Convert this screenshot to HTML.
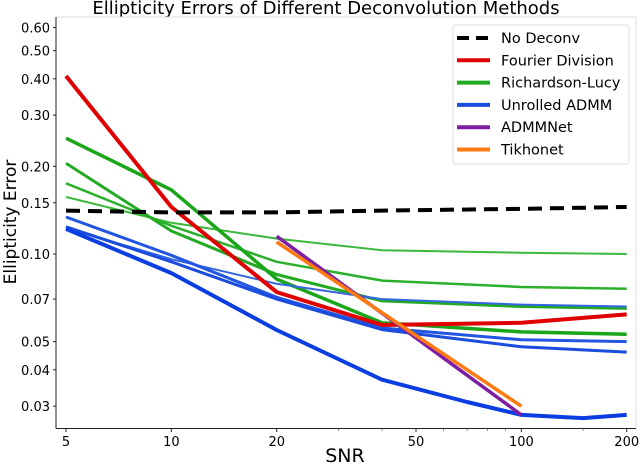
<!DOCTYPE html>
<html><head><meta charset="utf-8"><style>
body{margin:0;background:#fff;}
svg text{font-family:"DejaVu Sans","Liberation Sans",sans-serif;fill:#000;}
</style></head><body>
<svg id="chart" width="640" height="468" viewBox="0 0 640 468" xmlns="http://www.w3.org/2000/svg">
<text x="326" y="14" font-size="18" text-anchor="middle">Ellipticity Errors of Different Deconvolution Methods</text>
<line x1="56" y1="17" x2="636" y2="17" stroke="#ddd" stroke-width="1"/>
<line x1="636" y1="17" x2="636" y2="428" stroke="#ddd" stroke-width="1"/>
<line x1="56" y1="17" x2="56" y2="428.5" stroke="#222" stroke-width="1"/>
<line x1="56" y1="428.5" x2="636" y2="428.5" stroke="#222" stroke-width="1"/>
<g id="ticks"></g>
<g id="series"></g>
<text x="345" y="462" font-size="19" text-anchor="middle">SNR</text>
<text transform="translate(16,222) rotate(-90)" font-size="17" text-anchor="middle">Ellipticity Error</text>
<g>
<rect x="453" y="25" width="176" height="139" rx="3" fill="#fff" stroke="#ddd"/>
<g id="legend-items"></g>
</g>
</svg>
<script>
const snr = [5, 10, 20, 40, 100, 200];
const noDeconv = [0.141, 0.139, 0.139, 0.141, 0.143, 0.145];
const fourier = [0.409, 0.145, 0.074, 0.057, 0.058, 0.062];
const rl1 = [0.25, 0.166, 0.082, 0.058, 0.054, 0.053];
const rl2 = [0.205, 0.12, 0.085, 0.069, 0.066, 0.065];
const rl3 = [0.175, 0.125, 0.094, 0.081, 0.077, 0.076];
const rl4 = [0.157, 0.128, 0.113, 0.103, 0.101, 0.100];
const admmA = [0.134, 0.099, 0.071, 0.0557, 0.0507, 0.050];
const admmB = [0.124, 0.094, 0.070, 0.055, 0.048, 0.046];
const admmC = [0.123, 0.096, 0.079, 0.070, 0.067, 0.066];
const admmThickSnr = [5, 10, 20, 40, 70, 100, 150, 200];
const admmThick = [0.122, 0.086, 0.0548, 0.037, 0.031, 0.028, 0.0273, 0.028];
const netSnr = [20, 100];
const admmnet = [0.115, 0.028];
const tikhonet = [0.11, 0.030];
const xTicks = [5, 10, 20, 50, 100, 200];
const yTicks = [0.03, 0.04, 0.05, 0.07, 0.10, 0.15, 0.20, 0.30, 0.40, 0.50, 0.60];
const yTickLabels = ["0.03","0.04","0.05","0.07","0.10","0.15","0.20","0.30","0.40","0.50","0.60"];
const legendLabels = ["No Deconv","Fourier Division","Richardson-Lucy","Unrolled ADMM","ADMMNet","Tikhonet"];

const X = v => 66 + 350 * Math.log10(v / 5);
const Y = v => 254 - 291 * Math.log10(v / 0.1);
const NS = "http://www.w3.org/2000/svg";
const ticks = document.getElementById('ticks');
const ser = document.getElementById('series');
function mk(tag, attrs, parent){const e=document.createElementNS(NS,tag);for(const k in attrs)e.setAttribute(k,attrs[k]);parent.appendChild(e);return e;}

xTicks.forEach(v=>{
  const t=mk('line',{x1:X(v),x2:X(v),y1:428.5,y2:432,stroke:'#222'},ticks);
  
  
  const l=mk('text',{x:X(v),y:446,'font-size':13,'text-anchor':'middle'},ticks);
  l.textContent=v;
  
  
});
[30,40,60,70,80,90,150].forEach(v=>{
  const t=mk('line',{x1:X(v),x2:X(v),y1:428.5,y2:431,stroke:'#444','stroke-width':0.6},ticks);
  
  
});
yTicks.forEach((v,i)=>{
  const t=mk('line',{x1:53,x2:56,y1:Y(v),y2:Y(v),stroke:'#222'},ticks);
  
  
  const l=mk('text',{x:50,y:Y(v)+5,'font-size':13,'text-anchor':'end'},ticks);
  l.textContent=yTickLabels[i];
  
  
});

function line(xs, ys, color, w, name, dash){
  const d = xs.map((x,i)=>(i?'L':'M')+X(x).toFixed(1)+','+Y(ys[i]).toFixed(1)).join(' ');
  const p = mk('path',{d:d,fill:'none',stroke:color,'stroke-width':w,'stroke-linejoin':'round'},ser);
  if(dash) p.setAttribute('stroke-dasharray',dash);
  
  
}
line(snr, rl4, '#3cb83c', 2, 'richardson-lucy-line-4');
line(snr, rl3, '#2cb02c', 2.5, 'richardson-lucy-line-3');
line(snr, rl2, '#22aa22', 3, 'richardson-lucy-line-2');
line(snr, rl1, '#1aa51a', 3.5, 'richardson-lucy-line-1');
line(snr, admmC, '#3366e0', 2, 'unrolled-admm-line-3');
line(snr, admmA, '#2255e0', 3, 'unrolled-admm-line-1');
line(snr, admmB, '#1a4ddd', 3, 'unrolled-admm-line-2');
line(admmThickSnr, admmThick, '#0a3ee0', 4, 'unrolled-admm-line-4');
line(snr, fourier, '#e00000', 4, 'fourier-division-line');
line(snr, noDeconv, '#000', 4, 'no-deconv-line', '14,8');
line(netSnr, admmnet, '#7d1fa0', 3.5, 'admmnet-line');
line(netSnr, tikhonet, '#ff7a10', 3.5, 'tikhonet-line');

const lg = document.getElementById('legend-items');
const lcol = ['#000','#e00000','#22aa22','#1a4ddd','#7d1fa0','#ff7a10'];
legendLabels.forEach((lab,i)=>{
  const y = 38 + i*22.3;
  const l = mk('line',{x1:457,x2:490,y1:y,y2:y,stroke:lcol[i],'stroke-width':4},lg);
  if(i===0) l.setAttribute('stroke-dasharray','12,7');
  
  
  const t = mk('text',{x:501,y:y+5,'font-size':14.5},lg);
  t.textContent = lab;
  
  
});
</script>
</body></html>
